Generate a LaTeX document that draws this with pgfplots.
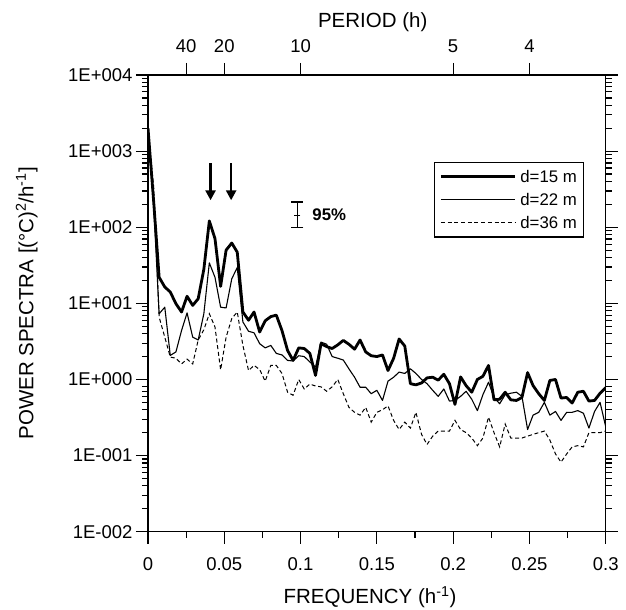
\documentclass[border=0pt]{standalone}
\usepackage{fontspec}
\setmainfont{Liberation Sans}
\usepackage{pgfplots}
\usepackage{pgfplotstable}
\pgfplotsset{compat=1.18}
\usetikzlibrary{arrows.meta}

\pgfplotstableread{
f d15 d22 d36
0 2000 1900 1800
0.0037 220 200 350
0.0073 22 7.3 6.6
0.0110 16.4 8.9 3.6
0.0146 14.1 2.07 1.97
0.0183 9.9 2.3 1.9
0.0220 7.7 4.4 1.6
0.0256 12.4 7.5 1.85
0.0293 9.4 3.6 1.6
0.0329 11.5 3.3 3.3
0.0366 28 7.3 4.5
0.0402 121 34 7.3
0.0439 71 22 4.9
0.0476 16.7 8.9 1.34
0.0512 50 8.7 3.6
0.0549 62 21 6.3
0.0585 47 29.5 7.7
0.0622 7.7 5.7 2.8
0.0659 6.0 4.3 1.31
0.0695 7.7 4.1 1.53
0.0732 4.2 2.95 1.35
0.0768 5.9 2.6 0.95
0.0805 6.7 2.8 1.53
0.0841 7.0 2.2 1.53
0.0878 4.4 2.1 1.2
0.0915 2.4 1.78 0.68
0.0951 1.78 1.75 0.62
0.0988 2.6 2.05 1.0
0.1024 2.55 2.0 0.75
0.1061 2.2 1.7 0.87
0.1098 1.13 1.45 0.82
0.1134 2.95 3.1 0.8
0.1171 2.7 2.9 0.7
0.1207 2.55 2.0 0.8
0.1244 2.85 1.9 1.0
0.1280 3.26 1.8 0.65
0.1317 2.9 1.38 0.43
0.1354 2.5 1.07 0.37
0.1390 3.3 0.79 0.34
0.1427 2.3 0.79 0.43
0.1463 2.05 0.65 0.275
0.1500 2.0 0.72 0.37
0.1537 2.1 0.53 0.4
0.1573 1.31 0.95 0.45
0.1610 1.9 1.07 0.29
0.1646 3.4 1.25 0.22
0.1683 2.75 1.2 0.275
0.1720 0.88 1.38 0.23
0.1756 0.85 1.2 0.37
0.1793 0.9 1.0 0.19
0.1829 1.05 0.88 0.14
0.1866 1.07 0.72 0.18
0.1902 0.98 0.6 0.21
0.1939 1.17 0.75 0.21
0.1976 0.88 0.52 0.21
0.2012 0.47 0.53 0.29
0.2049 1.08 0.6 0.22
0.2085 0.83 0.7 0.2
0.2122 0.68 0.55 0.17
0.2159 1.0 0.39 0.135
0.2195 1.1 0.63 0.17
0.2232 1.53 0.92 0.32
0.2268 0.54 0.58 0.2
0.2305 0.55 0.48 0.13
0.2341 0.68 0.63 0.26
0.2378 0.54 0.66 0.17
0.2415 0.53 0.68 0.17
0.2451 0.58 0.6 0.17
0.2488 1.23 0.22 0.18
0.2524 0.83 0.34 0.19
0.2561 0.65 0.37 0.2
0.2598 0.53 0.5 0.21
0.2634 0.97 0.34 0.16
0.2671 1.0 0.38 0.105
0.2707 0.57 0.29 0.082
0.2744 0.58 0.37 0.105
0.2780 0.49 0.37 0.13
0.2817 0.68 0.39 0.135
0.2854 0.7 0.36 0.13
0.2890 0.52 0.23 0.2
0.2927 0.53 0.38 0.2
0.2963 0.66 0.5 0.2
0.3000 0.78 0.24 0.21
}\spectra

\begin{document}
\begin{tikzpicture}
\path[use as bounding box] (0,0) rectangle (626bp,610bp);
\begin{axis}[
  at={(148bp,78.3bp)}, anchor=south west,
  scale only axis, width=457.7bp, height=456.7bp,
  xmin=0, xmax=0.3, ymode=log, ymin=1e-2, ymax=1e4,
  axis line style={line width=1.2bp},
  every tick/.style={line width=1.2bp, black},
  tick align=outside,
  major tick length=12bp, minor tick length=6bp,
  xtick={0,0.05,0.1,0.15,0.2,0.25,0.3},
  xticklabels={0,0.05,0.1,0.15,0.2,0.25,0.3},
  minor xtick={0.025,0.075,0.125,0.175,0.225,0.275},
  xtick pos=bottom,
  ytick={1e-2,1e-1,1,10,100,1000,10000},
  yticklabels={1E-002,1E-001,1E+000,1E+001,1E+002,1E+003,1E+004},
  minor ytick={0.02,0.03,...,0.09,0.2,0.3,...,0.9,2,3,...,9,20,30,...,90,200,300,...,900,2000,3000,...,9000},
  ytick pos=both, yticklabel pos=left,
  tick label style={font=\fontsize{18.5bp}{20bp}\selectfont},
  xticklabel style={yshift=-10bp},
  label style={font=\fontsize{20.5bp}{24bp}\selectfont},
  xlabel={FREQUENCY (h\textsuperscript{-1})},
  ylabel={POWER SPECTRA [(°C)\textsuperscript{2}/h\textsuperscript{-1}]},
  xlabel style={at={(axis description cs:0.485,-0.158)}, anchor=base},
  ylabel style={at={(axis description cs:-0.265,0.5)}, anchor=center},
  legend cell align=left,
  legend image code/.code={\draw[#1] (0bp,0bp) -- (74bp,0bp);},
  legend style={at={(axis description cs:0.953,0.810)}, anchor=north east,
    draw=black, line width=1.2bp, inner xsep=4.7bp, inner ysep=6bp,
    row sep=7.3bp, column sep=2bp,
    nodes={inner sep=2bp, text height=12bp, text depth=0bp},
    font=\fontsize{16.8bp}{18bp}\selectfont},
]
\addplot[black, line width=2.8bp, line join=round] table[x=f, y=d15] {\spectra};
\addlegendentry{d=15 m}
\addplot[black, line width=1.1bp, line join=round] table[x=f, y=d22] {\spectra};
\addlegendentry{d=22 m}
\addplot[black, line width=1bp, dash pattern=on 4bp off 2.7bp] table[x=f, y=d36] {\spectra};
\addlegendentry{d=36 m}
% 95% confidence bar
\addplot[black, line width=1.2bp, mark=-, mark size=3bp, forget plot,
  error bars/.cd, y dir=both, y explicit,
  error mark options={rotate=90, mark size=6bp, line width=1.2bp}]
  coordinates {(0.0979,141) += (0,74) -= (0,41)};
\node[anchor=west, font=\bfseries\fontsize{16.8bp}{18bp}\selectfont] at (axis cs:0.1055,148) {95\%};
% arrows
\draw[line width=2.6bp, -{Triangle[width=10bp,length=10bp]}] (axis cs:0.041,690) -- (axis cs:0.041,226);
\draw[line width=2.6bp, -{Triangle[width=10bp,length=10bp]}] (axis cs:0.0545,690) -- (axis cs:0.0545,226);
\end{axis}
\begin{axis}[
  at={(148bp,78.3bp)}, anchor=south west,
  scale only axis, width=457.7bp, height=456.7bp,
  xmin=0, xmax=0.3, ymin=0, ymax=1,
  axis x line*=top, axis y line=none,
  axis line style={line width=1.2bp},
  every tick/.style={line width=1.2bp, black},
  tick align=outside, major tick length=12bp,
  xtick={0.025,0.05,0.1,0.2,0.25},
  xticklabels={40,20,10,5,4},
  minor xtick={},
  tick label style={font=\fontsize{18.5bp}{20bp}\selectfont},
  xticklabel style={yshift=7bp},
  label style={font=\fontsize{20.5bp}{24bp}\selectfont},
  xlabel={PERIOD (h)},
  xlabel style={at={(axis description cs:0.491,1.105)}, anchor=base},
]
\addplot[draw=none] coordinates {(0,0)};
\end{axis}
\end{tikzpicture}
\end{document}
